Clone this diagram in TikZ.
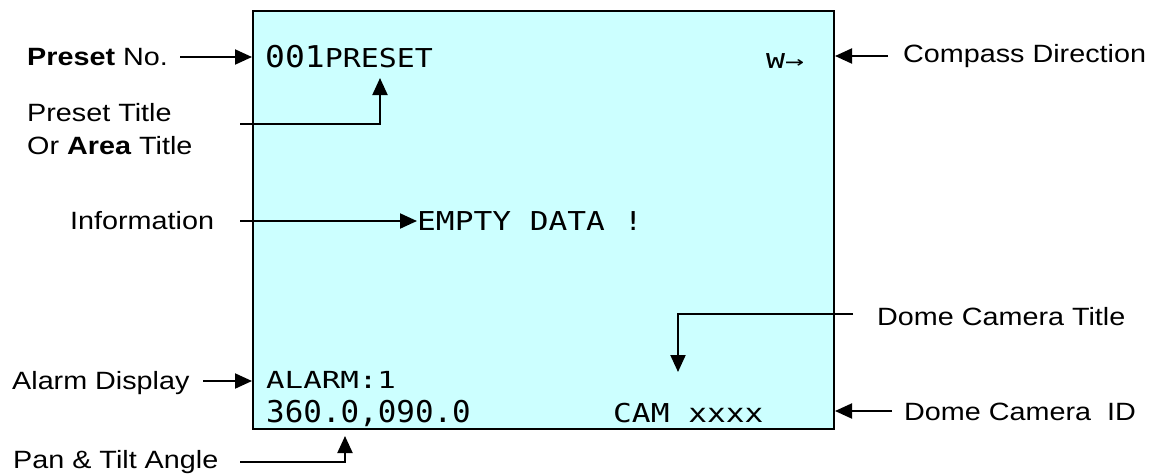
\documentclass[tikz,border=0pt]{standalone}
\usepackage{fontspec}
\setmainfont{Liberation Sans}[FakeStretch=1.15]
\newfontfamily\monoA{DejaVu Sans Mono}[FakeStretch=1.1]
\newfontfamily\monoB{DejaVu Sans Mono}[FakeStretch=1.15]
\newfontfamily\monoC{DejaVu Sans Mono}[FakeStretch=1.54]
\newfontfamily\monoD{DejaVu Sans Mono}[FakeStretch=1.2]
\newfontfamily\monoE{DejaVu Sans Mono}[FakeStretch=1.31]
\newfontfamily\monoF{DejaVu Sans Mono}[FakeStretch=1.03]
\usetikzlibrary{arrows.meta}
\definecolor{screen}{HTML}{CCFFFF}
\begin{document}
\begin{tikzpicture}[x=1pt,y=-1pt,
  lbl/.style={anchor=base west,inner sep=0pt,font=\fontsize{25}{33}\selectfont},
  osd/.style={anchor=base west,inner sep=0pt,font=\monoD\fontsize{26}{30}\selectfont},
  arr/.style={line width=2pt,-{Triangle[length=17pt,width=15pt]}}]
\useasboundingbox (0,0) rectangle (1165,475);
\node[draw=black,line width=2pt,fill=screen,minimum width=581pt,minimum height=418pt,anchor=north west,inner sep=0pt] (screen) at (252,10) {};
% labels
\node[lbl] (lpreset) at (27,65) {\textbf{Preset} No.};
\node[lbl] (ltitle1) at (27,121) {Preset Title};
\node[lbl] (ltitle2) at (27,154) {Or \textbf{Area} Title};
\node[lbl] (linfo) at (70,229) {Information};
\node[lbl] (lalarm) at (12,389) {Alarm Display};
\node[lbl] (lpan) at (13,468) {Pan \& Tilt Angle};
\node[lbl] (lcompass) at (903,62) {Compass Direction};
\node[lbl] (ldtitle) at (877,325) {Dome Camera Title};
\node[lbl] (ldid) at (904,420) {Dome Camera\ \ ID};
% OSD texts
\node[osd,font=\monoA\fontsize{30}{30}\selectfont] (preset) at (265,67) {001{\monoB\fontsize{26}{26}\selectfont PRESET}};
\node[osd,font=\monoC\fontsize{20.5}{22}\selectfont] (dir) at (766,68) {W→};
\node[osd] (info) at (417,230) {EMPTY DATA !};
\node[osd,font=\monoE\fontsize{23.5}{26}\selectfont] (alarm) at (266,388) {ALARM:1};
\node[osd,font=\monoF\fontsize{30}{30}\selectfont] (pt) at (266,422) {360.0,090.0};
\node[osd] (cam) at (613,422) {CAM xxxx};
% connectors
\coordinate (c1) at (180,57);
\draw[arr] (c1) -- (c1 -| screen.west);
\coordinate (c2) at (240,124);
\coordinate (t2) at (380,78);
\draw[arr] (c2) -| (t2);
\coordinate (c3) at (240,221);
\draw[arr] (c3) -- (c3 -| info.west);
\coordinate (c4) at (203,381);
\draw[arr] (c4) -- (c4 -| screen.west);
\coordinate (c5) at (240,462);
\coordinate (t5) at (345,436);
\draw[arr] (c5) -| (t5);
\coordinate (c6) at (888,56);
\draw[arr] (c6) -- (c6 -| screen.east);
\coordinate (c7) at (853,314);
\coordinate (t7) at (678,372);
\draw[arr] (c7) -| (t7);
\coordinate (c8) at (892,411);
\draw[arr] (c8) -- (c8 -| screen.east);
\end{tikzpicture}
\end{document}
